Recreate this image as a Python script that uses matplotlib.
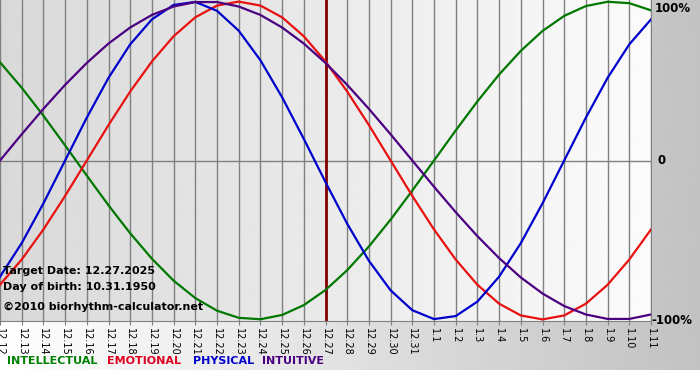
import numpy as np
import matplotlib
matplotlib.use("Agg")
import matplotlib.pyplot as plt

dates = ["12.12", "12.13", "12.14", "12.15", "12.16", "12.17", "12.18", "12.19", "12.20",
         "12.21", "12.22", "12.23", "12.24", "12.25", "12.26", "12.27", "12.28", "12.29",
         "12.30", "12.31", "1.1", "1.2", "1.3", "1.4", "1.5", "1.6", "1.7", "1.8", "1.9",
         "1.10", "1.11"]

physical = [-0.731, -0.520, -0.270, 0.0, 0.270, 0.520, 0.731, 0.888, 0.979, 0.998, 0.942,
            0.817, 0.631, 0.398, 0.136, -0.136, -0.398, -0.631, -0.817, -0.942, -0.998,
            -0.979, -0.888, -0.731, -0.520, -0.270, 0.0, 0.270, 0.520, 0.731, 0.888]
emotional = [-0.782, -0.623, -0.434, -0.223, 0.0, 0.223, 0.434, 0.623, 0.782, 0.901, 0.975,
             1.0, 0.975, 0.901, 0.782, 0.623, 0.434, 0.223, 0.0, -0.223, -0.434, -0.623,
             -0.782, -0.901, -0.975, -1.0, -0.975, -0.901, -0.782, -0.623, -0.434]
intellectual = [0.618, 0.458, 0.282, 0.095, -0.095, -0.282, -0.458, -0.618, -0.756, -0.866,
                -0.945, -0.990, -0.999, -0.972, -0.910, -0.815, -0.690, -0.541, -0.372,
                -0.189, 0.0, 0.189, 0.372, 0.541, 0.690, 0.815, 0.910, 0.972, 0.999, 0.990,
                0.945]
intuitive = [0.0, 0.165, 0.325, 0.476, 0.614, 0.736, 0.837, 0.916, 0.969, 0.997, 0.997,
             0.969, 0.916, 0.837, 0.736, 0.614, 0.476, 0.325, 0.165, 0.0, -0.165, -0.325,
             -0.476, -0.614, -0.736, -0.837, -0.916, -0.969, -0.997, -0.997, -0.969]
target_index = 15

W, H = 700, 380
fig = plt.figure(figsize=(7, 3.8), dpi=100)
fig.patch.set_facecolor("white")

# background gradient outside the plot
bg = fig.add_axes([0, 0, 1, 1])
grad = np.linspace(1.0, 0.76, 256).reshape(1, -1)
bg.imshow(grad, cmap="gray", vmin=0, vmax=1, aspect="auto",
          extent=[0, 1, 10 / H, 1])
bg.set_xlim(0, 1)
bg.set_ylim(0, 1)
bg.axis("off")

ax = fig.add_axes([0, 59 / H, 651 / W, 321 / H])
x = np.arange(len(dates))
ax.set_xlim(0, len(dates) - 1)
ax.set_ylim(-1.01, 1.01)

# plot area gradient (darker left, lighter right)
pgrad = np.linspace(0.85, 0.985, 256).reshape(1, -1)
ax.imshow(pgrad, cmap="gray", vmin=0, vmax=1, aspect="auto",
          extent=[0, len(dates) - 1, -1.01, 1.01], zorder=0)

for xi in x:
    ax.axvline(xi, color="#808080", lw=1, zorder=1)
ax.axhline(0, color="#808080", lw=1, zorder=1)
ax.axvline(target_index, color="#800000", lw=2, zorder=2)

ax.plot(x, intellectual, color="#007800", lw=1.6, zorder=3)
ax.plot(x, emotional, color="#e81010", lw=1.6, zorder=3)
ax.plot(x, physical, color="#0000cc", lw=1.6, zorder=3)
ax.plot(x, intuitive, color="#4b0082", lw=1.6, zorder=3)

ax.set_xticks(x)
ax.set_xticklabels(dates, rotation=270, fontsize=7)
ax.tick_params(axis="x", length=3, color="#808080", pad=2)
ax.set_yticks([])
for side in ["left", "top"]:
    ax.spines[side].set_visible(False)
for side in ["right", "bottom"]:
    ax.spines[side].set_color("#808080")

def px(xp, yp):
    return xp / W, 1 - yp / H

fig.text(*px(3, 271), "Target Date: 12.27.2025", fontsize=8, fontweight="bold", va="center")
fig.text(*px(3, 287), "Day of birth: 10.31.1950", fontsize=8, fontweight="bold", va="center")
fig.text(*px(3, 307), "\u00a92010 biorhythm-calculator.net", fontsize=8, fontweight="bold", va="center")

fig.text(*px(655, 8), "100%", fontsize=8.5, fontweight="bold", va="center")
fig.text(*px(658, 161), "0", fontsize=8.5, fontweight="bold", va="center")
fig.text(*px(651, 321), "-100%", fontsize=8.5, fontweight="bold", va="center")

legend_items = [("INTELLECTUAL", "#008000", 7), ("EMOTIONAL", "#e00020", 107),
                ("PHYSICAL", "#0000cc", 193), ("INTUITIVE", "#4b0082", 262)]
for label, col, xp in legend_items:
    fig.text(*px(xp, 361), label, color=col, fontsize=8, fontweight="bold", va="center")

fig.savefig("out.png", dpi=100)
